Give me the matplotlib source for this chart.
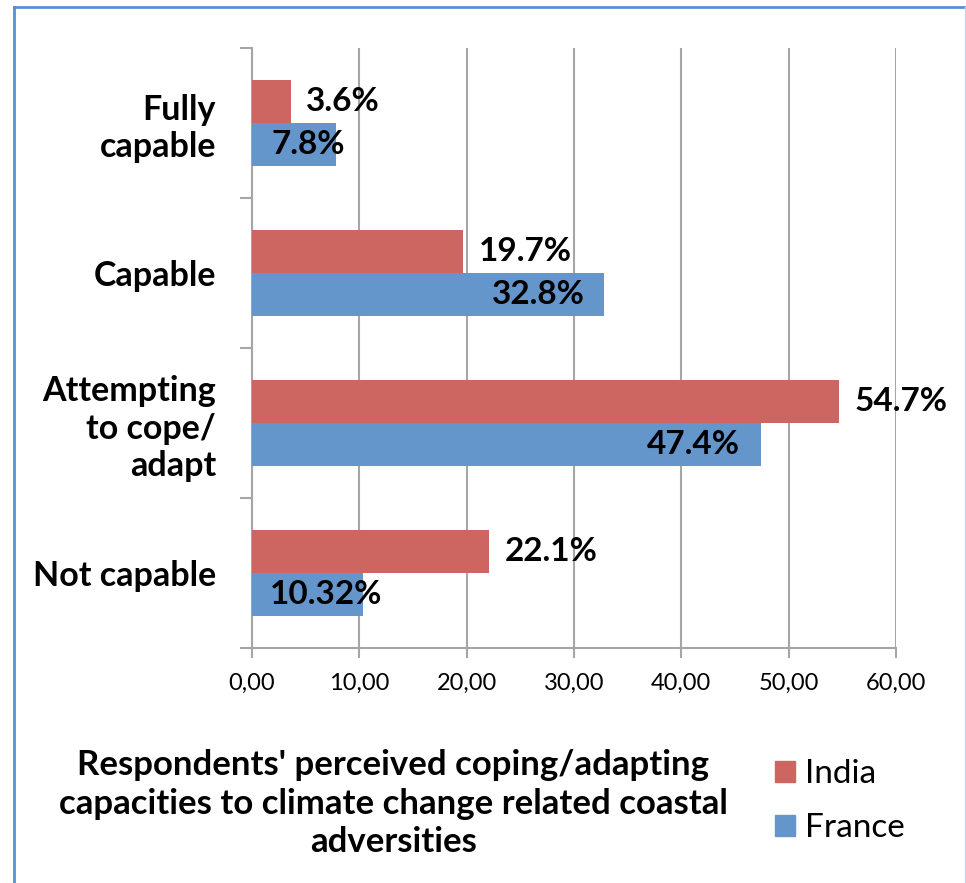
import matplotlib
matplotlib.use("Agg")
import matplotlib.pyplot as plt
from matplotlib.lines import Line2D
from matplotlib.patches import Patch
import numpy as np

plt.rcParams['font.family'] = ['Lato', 'DejaVu Sans']

# data
categories = ["Fully\ncapable", "Capable", "Attempting\nto cope/\nadapt", "Not capable"]
india = [3.6, 19.7, 54.7, 22.1]
france = [7.8, 32.8, 47.4, 10.32]
india_labels = ["3.6%", "19.7%", "54.7%", "22.1%"]
france_labels = ["7.8%", "32.8%", "47.4%", "10.32%"]
xticks = [0, 10, 20, 30, 40, 50, 60]
xtick_labels = ["0,00", "10,00", "20,00", "30,00", "40,00", "50,00", "60,00"]

india_col = "#CD6660"
france_col = "#6496CB"
grid_col = "#A6A6A6"

fig = plt.figure(figsize=(9.66, 8.83), dpi=100)
ax = fig.add_axes([0.2609, 0.2661, 0.6666, 0.6795])

y = np.arange(len(categories))
h = 0.287
ax.barh(y - h / 2, india, height=h, color=india_col, zorder=3)
ax.barh(y + h / 2, france, height=h, color=france_col, zorder=3)

# value labels (india outside end, france near end)
for yi, v, s in zip(y, india, india_labels):
    ax.annotate(s, (v, yi - h / 2), xytext=(11, 0), textcoords="offset points",
                ha="left", va="center", fontsize=24, fontweight="bold", zorder=4)
france_shift = [7, -14, -15, 14]
for yi, v, s, dx in zip(y, france, france_labels, france_shift):
    ax.annotate(s, (v, yi + h / 2), xytext=(dx, 0), textcoords="offset points",
                ha="right", va="center", fontsize=24, fontweight="bold", zorder=4)

ax.set_xlim(0, 60)
ax.set_ylim(len(categories) - 0.5, -0.5)
ax.set_xticks(xticks)
ax.set_xticklabels(xtick_labels, fontsize=17)
ax.set_yticks(y)
ax.set_yticklabels(categories, fontsize=24.5, fontweight="bold", linespacing=1.2)
ax.tick_params(axis="y", length=0, pad=26)
ax.set_yticks(np.arange(len(categories) + 1) - 0.5, minor=True)
ax.tick_params(axis="y", which="minor", length=9, color=grid_col, width=1.5)
ax.tick_params(axis="x", length=7, color=grid_col, width=1.5, pad=11, direction="out")
ax.xaxis.grid(True, color=grid_col, linewidth=1.5, zorder=0)
for side in ["top", "right"]:
    ax.spines[side].set_visible(False)
for side in ["left", "bottom"]:
    ax.spines[side].set_color(grid_col)
    ax.spines[side].set_linewidth(1.5)

fig.text(0.407, 0.0895,
         "Respondents' perceived coping/adapting\ncapacities to climate change related coastal\nadversities",
         ha="center", va="center", fontsize=25, fontweight="bold", linespacing=1.25)

handles = [Patch(color=india_col), Patch(color=france_col)]
fig.legend(handles, ["India", "France"], loc="center left",
           bbox_to_anchor=(0.771, 0.093), frameon=False, fontsize=24,
           handlelength=0.6, handleheight=0.6, handletextpad=0.3, labelspacing=0.72)

# outer border like the office chart frame
fig.add_artist(Line2D([0.0145, 0.0145], [0.0, 0.9925], color="#5B8FCF", linewidth=2,
                      transform=fig.transFigure))
fig.add_artist(Line2D([0.0145, 0.999], [0.9925, 0.9925], color="#5B8FCF", linewidth=2,
                      transform=fig.transFigure))
fig.add_artist(Line2D([0.9985, 0.9985], [0.0, 0.9925], color="#C9D8EE", linewidth=1,
                      transform=fig.transFigure))

fig.savefig("out.png", dpi=100)
